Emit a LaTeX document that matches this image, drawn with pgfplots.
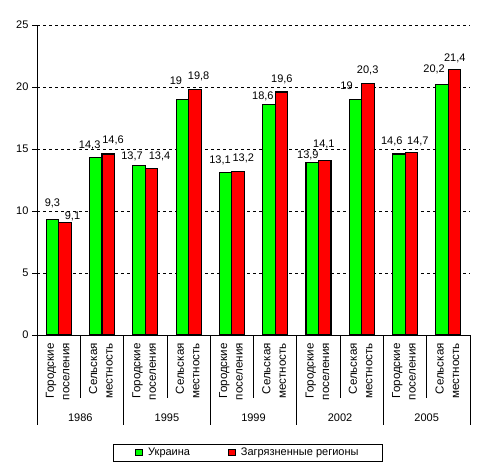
\documentclass[border=0pt]{standalone}
\usepackage{pgfplots}
\pgfplotsset{compat=1.18}
\usepackage{pgfplotstable}
\usepackage{fontspec}
\setmainfont{Liberation Sans}
\definecolor{ugreen}{RGB}{0,255,0}
\definecolor{ured}{RGB}{255,0,0}
\pgfplotstableread{
x y dx gap
0 9.3 0 12.7
1 14.3 -6 8.7
2 13.7 -7 6
3 19 -6.4 14.4
4 13.1 -5.6 8.6
5 18.6 -6 4.4
6 13.9 -4.3 4.3
7 19 -9 9.4
8 14.6 -7 9
9 20.2 -8 11.8
}\ukr
\pgfplotstableread{
x y dx gap
0 9.1 7.6 3
1 14.6 4.8 10.7
2 13.4 8 9.8
3 19.8 3.8 9.5
4 13.2 5.2 9.6
5 19.6 0.5 9.3
6 14.1 -0.8 12.9
7 20.3 -0.3 9.3
8 14.7 6.6 8.7
9 21.4 0.2 7.9
}\reg
\newcommand\fnt{\fontsize{11}{13}\selectfont}
\tikzset{cat/.style={yshift=-8pt, xshift=-1pt, rotate=90, anchor=east, align=right, inner sep=0pt, font=\fontsize{11.6}{15.5}\selectfont},
  sep/.style={line width=0.8pt}}
\begin{document}
\begin{tikzpicture}[font=\fnt]
\useasboundingbox (0,0) rectangle (485pt,469pt);
\begin{axis}[
  at={(37pt,134pt)}, anchor=south west,
  x=43.3pt, y=12.4pt,
  xmin=-0.5, xmax=9.5, ymin=0, ymax=25,
  axis x line*=bottom, axis y line*=left,
  axis line style={line width=0.8pt},
  ybar=0pt, bar width=12.5pt,
  ytick={0,5,...,25},
  xtick=\empty,
  tick align=outside, major tick length=5pt,
  tick style={black, line width=0.8pt},
  yticklabel style={font=\fnt},
  ymajorgrids,
  major grid style={black, dash pattern=on 3pt off 3pt, line width=0.6pt},
  /pgf/number format/use comma,
  /pgf/number format/assume math mode=true,
  clip=false,
  legend columns=2,
  legend style={at={(axis description cs:0.1755,-0.379)}, anchor=west,
    draw=black, line width=0.8pt, inner xsep=22pt, inner ysep=2pt,
    font=\fnt,
    /tikz/every odd column/.append style={column sep=3.5pt},
    /tikz/every even column/.append style={column sep=36pt}},
  nodes near coords,
  visualization depends on={\thisrow{dx} \as \dx},
  visualization depends on={\thisrow{gap} \as \gap},
  nodes near coords style={anchor=base, inner sep=0pt, xshift=\dx pt, yshift=\gap pt, font=\fnt, black},
]
\addplot[fill=ugreen, draw=black, line width=1.1pt,
  legend image code/.code={\draw[fill=ugreen, draw=black, line width=0.8pt] (0pt,-3pt) rectangle (6.5pt,3.5pt);}]
  table[x=x, y=y] {\ukr};
\addplot[fill=ured, draw=black, line width=1.1pt,
  legend image code/.code={\draw[fill=ured, draw=black, line width=0.8pt] (0pt,-3pt) rectangle (6.5pt,3.5pt);}]
  table[x=x, y=y] {\reg};
\legend{Украина, Загрязненные регионы}
% separators
\draw[sep] (axis cs:0.5,0) -- ([yshift=-63pt]axis cs:0.5,0);
\draw[sep] (axis cs:2.5,0) -- ([yshift=-63pt]axis cs:2.5,0);
\draw[sep] (axis cs:4.5,0) -- ([yshift=-63pt]axis cs:4.5,0);
\draw[sep] (axis cs:6.5,0) -- ([yshift=-63pt]axis cs:6.5,0);
\draw[sep] (axis cs:8.5,0) -- ([yshift=-63pt]axis cs:8.5,0);
\draw[sep] (axis cs:-0.5,0) -- ([yshift=-90pt]axis cs:-0.5,0);
\draw[sep] (axis cs:1.5,0) -- ([yshift=-90pt]axis cs:1.5,0);
\draw[sep] (axis cs:3.5,0) -- ([yshift=-90pt]axis cs:3.5,0);
\draw[sep] (axis cs:5.5,0) -- ([yshift=-90pt]axis cs:5.5,0);
\draw[sep] (axis cs:7.5,0) -- ([yshift=-90pt]axis cs:7.5,0);
\draw[sep] (axis cs:9.5,0) -- ([yshift=-90pt]axis cs:9.5,0);
% category labels
\node[cat] at (axis cs:0,0) {Городские\\поселения};
\node[cat] at (axis cs:1,0) {Сельская\\местность};
\node[cat] at (axis cs:2,0) {Городские\\поселения};
\node[cat] at (axis cs:3,0) {Сельская\\местность};
\node[cat] at (axis cs:4,0) {Городские\\поселения};
\node[cat] at (axis cs:5,0) {Сельская\\местность};
\node[cat] at (axis cs:6,0) {Городские\\поселения};
\node[cat] at (axis cs:7,0) {Сельская\\местность};
\node[cat] at (axis cs:8,0) {Городские\\поселения};
\node[cat] at (axis cs:9,0) {Сельская\\местность};
% years
\node[anchor=base, yshift=-86pt, inner sep=0pt] at (axis cs:0.5,0) {1986};
\node[anchor=base, yshift=-86pt, inner sep=0pt] at (axis cs:2.5,0) {1995};
\node[anchor=base, yshift=-86pt, inner sep=0pt] at (axis cs:4.5,0) {1999};
\node[anchor=base, yshift=-86pt, inner sep=0pt] at (axis cs:6.5,0) {2002};
\node[anchor=base, yshift=-86pt, inner sep=0pt] at (axis cs:8.5,0) {2005};
\end{axis}
\end{tikzpicture}
\end{document}
